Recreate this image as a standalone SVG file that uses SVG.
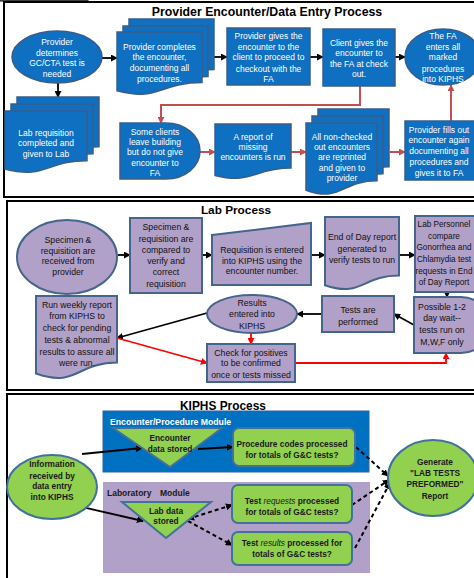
<svg xmlns="http://www.w3.org/2000/svg" width="474" height="578" viewBox="0 0 474 578">
<style>
text{font-family:"Liberation Sans",Arial,sans-serif;text-anchor:middle}
.ttl{font-size:12.3px;font-weight:bold;fill:#000}
.w{font-size:8.5px;fill:#fff}
.k{font-size:8.7px;fill:#111}
.g{font-size:8.3px;font-weight:bold;fill:#1a1a1a}
.sec{fill:#fff;stroke:#000;stroke-width:2}
.blue{fill:#0F6FC0;stroke:#385D8A;stroke-width:1.5}
.lav{fill:#B1A0C7;stroke:#46658C;stroke-width:2}
.grn{fill:#92D050;stroke:#41719C;stroke-width:2}
.cb{stroke:#000;stroke-width:1.8;fill:none;marker-end:url(#ab)}
.cr{stroke:#C0504D;stroke-width:2;fill:none;marker-end:url(#ar)}
.cR{stroke:#FF0000;stroke-width:1.8;fill:none;marker-end:url(#aR)}
.cd{stroke:#000;stroke-width:2;fill:none;stroke-dasharray:4 3;marker-end:url(#ab)}
</style>
<defs>
<marker id="ab" viewBox="0 0 8 8" refX="7" refY="4" markerWidth="7" markerHeight="7" markerUnits="userSpaceOnUse" orient="auto-start-reverse"><path d="M0,0L8,4L0,8z" fill="#000"/></marker>
<marker id="ar" viewBox="0 0 8 8" refX="7" refY="4" markerWidth="7" markerHeight="7" markerUnits="userSpaceOnUse" orient="auto"><path d="M0,0L8,4L0,8z" fill="#C0504D"/></marker>
<marker id="aR" viewBox="0 0 8 8" refX="7" refY="4" markerWidth="7" markerHeight="7" markerUnits="userSpaceOnUse" orient="auto"><path d="M0,0L8,4L0,8z" fill="#FF0000"/></marker>
</defs>
<path d="M0,0.8H88V2" fill="none" stroke="#000" stroke-width="1.2"/>
<rect class="sec" x="4" y="2" width="476" height="195"/>
<rect class="sec" x="7" y="201" width="473" height="189"/>
<rect class="sec" x="7" y="394" width="473" height="190"/>
<text class="ttl" x="267" y="16">Provider Encounter/Data Entry Process</text>
<text class="ttl" x="236" y="214" style="font-size:11.8px">Lab Process</text>
<text class="ttl" x="223" y="410" style="font-size:11.9px">KIPHS Process</text>

<rect x="103" y="411" width="266" height="61" fill="#0070C0" stroke="#2F63A0" stroke-width="1"/>
<text x="110" y="425" style="font-size:8.7px;font-weight:bold;fill:#fff;text-anchor:start">Encounter/Procedure Module</text>
<rect x="103" y="482" width="267" height="91" fill="#B1A0C7"/>
<text x="107" y="496" style="font-size:8.5px;font-weight:bold;fill:#1a1a1a;text-anchor:start">Laboratory</text>
<text x="160" y="496" style="font-size:8.5px;font-weight:bold;fill:#1a1a1a;text-anchor:start">Module</text>

<g id="connectors">
<path class="cb" d="M102,58H117"/>
<path class="cb" d="M214,57H227"/>
<path class="cb" d="M310,57H323"/>
<path class="cb" d="M395,57H405"/>
<path class="cb" d="M58,83V97"/>
<path class="cr" d="M360,86V105H161V123"/>
<path class="cr" d="M200,152H215"/>
<path class="cr" d="M291,152H306"/>
<path class="cr" d="M390,152H405"/>
<path class="cr" d="M451,121V85"/>
<path class="cb" d="M118,255H130"/>
<path class="cb" d="M202,255H212"/>
<path class="cb" d="M311,255H325"/>
<path class="cb" d="M399,255H415"/>
<path class="cb" d="M447,292V297"/>
<path class="cb" d="M414,325L394,314"/>
<path class="cb" d="M322,314H297"/>
<path class="cb" d="M207,313L117,338"/>
<path class="cR" d="M117,338L207,363"/>
<path class="cR" d="M251,333V344"/>
<path class="cR" d="M295,363H446V353"/>
<path class="cb" d="M82,454L142,448"/>
<path class="cb" d="M82,507L143,521"/>
<path class="cb" d="M198,449L233,447"/>
<path class="cd" d="M188,519L232,505" style="marker-start:url(#ab)"/>
<path class="cd" d="M188,521L232,545"/>
<path class="cd" d="M356,447L388,476"/>
<path class="cd" d="M352,505L389,480"/>
<path class="cd" d="M355,548L390,483"/>
</g>

<g id="n1"><ellipse class="blue" cx="57" cy="57" rx="45" ry="26"/>
<text class="w"><tspan x="57" y="45">Provider</tspan><tspan x="57" y="56">determines</tspan><tspan x="57" y="66">GC/CTA test is</tspan><tspan x="57" y="77">needed</tspan></text></g>
<g id="n2">
<path class="blue" d="M129,19H214V69.5C171.5,69.5 171.5,88.7 129,77.8Z"/>
<path class="blue" d="M123,26H208V76.5C165.5,76.5 165.5,95.7 123,84.8Z"/>
<path class="blue" d="M117,32H202V82.5C159.5,82.5 159.5,101.7 117,90.8Z"/>
<text class="w"><tspan x="159.5" y="50">Provider completes</tspan><tspan x="159.5" y="60">the encounter,</tspan><tspan x="159.5" y="71">documenting all</tspan><tspan x="159.5" y="82">procedures.</tspan></text></g>
<g id="n3"><rect class="blue" x="227" y="28" width="83" height="57"/>
<text class="w"><tspan x="268.5" y="39">Provider gives the</tspan><tspan x="268.5" y="50">encounter to the</tspan><tspan x="268.5" y="60">client to proceed to</tspan><tspan x="268.5" y="72">checkout with the</tspan><tspan x="268.5" y="82">FA</tspan></text></g>
<g id="n4"><rect class="blue" x="323" y="29" width="72" height="57"/>
<text class="w"><tspan x="359" y="46">Client gives the</tspan><tspan x="359" y="56">encounter to</tspan><tspan x="359" y="67">the FA at check</tspan><tspan x="359" y="77">out.</tspan></text></g>
<g id="n5"><ellipse class="blue" cx="443" cy="57" rx="38" ry="28"/>
<text class="w"><tspan x="443" y="39">The FA</tspan><tspan x="443" y="50">enters all</tspan><tspan x="443" y="60">marked</tspan><tspan x="443" y="72">procedures</tspan><tspan x="443" y="82">into  KIPHS</tspan></text></g>
<g id="n6">
<path class="blue" d="M17,97H99V146.7C58,146.7 58,165.6 17,154.9Z"/>
<path class="blue" d="M11,104H93V153.7C52,153.7 52,172.6 11,161.9Z"/>
<path class="blue" d="M5,111H87V160.7C46,160.7 46,179.6 5,168.9Z"/>
<text class="w"><tspan x="46" y="136">Lab requisition</tspan><tspan x="46" y="146">completed and</tspan><tspan x="46" y="157">given to Lab</tspan></text></g>
<g id="n7"><path class="blue" d="M120,123H166A34,28 0 0 1 166,179H120Z"/>
<text class="w"><tspan x="155" y="135">Some clients</tspan><tspan x="155" y="145">leave building</tspan><tspan x="155" y="155">but do not give</tspan><tspan x="155" y="166">encounter to</tspan><tspan x="155" y="176">FA</tspan></text></g>
<g id="n8"><path class="blue" d="M215,124H291V168.1C253,168.1 253,184.9 215,175.4Z"/>
<text class="w"><tspan x="253" y="140">A report of</tspan><tspan x="253" y="150">missing</tspan><tspan x="253" y="160">encounters is run</tspan></text></g>
<g id="n9">
<path class="blue" d="M318,109H389V166.7C353.5,166.7 353.5,188.7 318,176.2Z"/>
<path class="blue" d="M312,116H383V173.7C347.5,173.7 347.5,195.7 312,183.2Z"/>
<path class="blue" d="M306,123H377V180.7C341.5,180.7 341.5,202.7 306,190.2Z"/>
<text class="w"><tspan x="342" y="140">All non-checked</tspan><tspan x="342" y="150">out encounters</tspan><tspan x="342" y="160">are reprinted</tspan><tspan x="342" y="171">and given to</tspan><tspan x="342" y="181">provider</tspan></text></g>
<g id="n10"><rect class="blue" x="405" y="121" width="72" height="59"/>
<text class="w"><tspan x="439" y="133">Provider fills out</tspan><tspan x="439" y="143">encounter again</tspan><tspan x="439" y="154">documenting all</tspan><tspan x="439" y="165">procedures and</tspan><tspan x="439" y="176">gives it to FA</tspan></text></g>

<g id="l1"><ellipse class="lav" cx="67" cy="257" rx="50" ry="37"/>
<text class="k"><tspan x="68" y="243">Specimen &amp;</tspan><tspan x="68" y="254">requisition  are</tspan><tspan x="68" y="264">received from</tspan><tspan x="68" y="275">provider</tspan></text></g>
<g id="l2"><rect class="lav" x="130" y="218" width="72" height="75"/>
<text class="k"><tspan x="166" y="230">Specimen &amp;</tspan><tspan x="166" y="242">requisition  are</tspan><tspan x="166" y="253">compared to</tspan><tspan x="166" y="264">verify and</tspan><tspan x="166" y="275">correct</tspan><tspan x="166" y="287">requisition</tspan></text></g>
<g id="l3"><path class="lav" d="M212,235L311,223V285H212Z"/>
<text class="k"><tspan x="262" y="253">Requisition is entered</tspan><tspan x="262" y="264">into KIPHS using the</tspan><tspan x="262" y="274">encounter number.</tspan></text></g>
<g id="l4"><path class="lav" d="M325,217H399V275.5C362,275.5 362,297.8 325,285.2Z"/>
<text class="k"><tspan x="362" y="240">End of Day report</tspan><tspan x="362" y="252">generated to</tspan><tspan x="362" y="263">verify tests to run</tspan></text></g>
<g id="l5"><rect class="lav" x="415" y="216" width="66" height="76"/>
<text class="k" style="font-size:8.2px"><tspan x="444" y="227">Lab Personnel</tspan><tspan x="444" y="239">compare</tspan><tspan x="444" y="250">Gonorrhea and</tspan><tspan x="444" y="262">Chlamydia test</tspan><tspan x="444" y="274">requests in End</tspan><tspan x="444" y="285">of Day Report</tspan></text></g>
<g id="l6"><path class="lav" d="M414,297H461A29,28 0 0 1 461,353H414Z"/>
<text class="k"><tspan x="442" y="310">Possible 1-2</tspan><tspan x="442" y="321">day wait--</tspan><tspan x="442" y="333">tests run on</tspan><tspan x="442" y="345">M,W,F only</tspan></text></g>
<g id="l7"><rect class="lav" x="322" y="296" width="72" height="36"/>
<text class="k"><tspan x="358" y="313">Tests are</tspan><tspan x="358" y="325">performed</tspan></text></g>
<g id="l8"><ellipse class="lav" cx="252" cy="314" rx="45" ry="19"/>
<text class="k"><tspan x="252" y="306">Results</tspan><tspan x="252" y="317">entered into</tspan><tspan x="252" y="329">KIPHS</tspan></text></g>
<g id="l9"><path class="lav" d="M36,296H117V362.6C76.5,362.6 76.5,387.9 36,373.5Z"/>
<text class="k"><tspan x="77" y="308">Run weekly report</tspan><tspan x="77" y="319">from KIPHS to</tspan><tspan x="77" y="331">check for pending</tspan><tspan x="77" y="343">tests &amp; abnormal</tspan><tspan x="77" y="355">results to assure all</tspan><tspan x="77" y="366">were run.</tspan></text></g>
<g id="l10"><rect class="lav" x="207" y="344" width="88" height="38"/>
<text class="k"><tspan x="251" y="356">Check for positives</tspan><tspan x="251" y="366">to be  confirmed</tspan><tspan x="251" y="378">once or tests missed</tspan></text></g>

<g id="k1"><ellipse class="grn" cx="52" cy="487" rx="45" ry="32"/>
<text class="g"><tspan x="52" y="467">Information</tspan><tspan x="52" y="479">received by</tspan><tspan x="52" y="489">data entry</tspan><tspan x="52" y="500">into KIPHS</tspan></text></g>
<g id="k2"><path class="grn" d="M113,428H222L170,467Z"/>
<text class="g"><tspan x="170" y="441">Encounter</tspan><tspan x="170" y="452">data stored</tspan></text></g>
<g id="k3"><rect class="grn" x="233" y="428" width="122" height="38" rx="6"/>
<text class="g"><tspan x="292" y="447">Procedure codes processed</tspan><tspan x="292" y="458">for totals of G&amp;C tests?</tspan></text></g>
<g id="k4"><path class="grn" d="M122,502H211L166,538Z"/>
<text class="g"><tspan x="166" y="514">Lab data</tspan><tspan x="166" y="524">stored</tspan></text></g>
<g id="k5"><rect class="grn" x="232" y="485" width="120" height="38" rx="6"/>
<text class="g"><tspan x="292" y="504">Test <tspan font-style="italic" font-weight="normal">requests</tspan> processed</tspan><tspan x="292" y="515">for totals of G&amp;C tests?</tspan></text></g>
<g id="k6"><rect class="grn" x="232" y="532" width="120" height="33" rx="6"/>
<text class="g"><tspan x="292" y="546">Test <tspan font-style="italic" font-weight="normal">results</tspan> processed for</tspan><tspan x="292" y="557">totals of G&amp;C tests?</tspan></text></g>
<g id="k7"><ellipse class="grn" cx="433" cy="478" rx="45" ry="38"/>
<text class="g"><tspan x="435" y="465">Generate</tspan><tspan x="435" y="476">"LAB TESTS</tspan><tspan x="435" y="487">PREFORMED"</tspan><tspan x="435" y="499">Report</tspan></text></g>
</svg>
